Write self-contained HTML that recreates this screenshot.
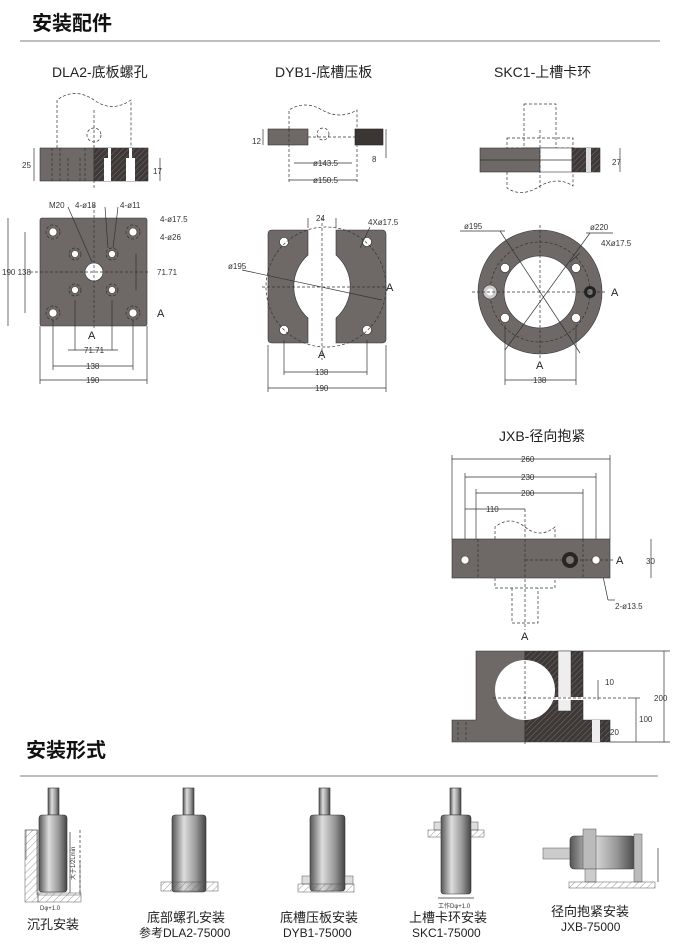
<!DOCTYPE html>
<html><head><meta charset="utf-8"><style>
html,body{margin:0;padding:0;background:#fff;width:684px;height:946px;overflow:hidden}
svg{display:block}
text{font-family:"Liberation Sans","Noto Sans CJK SC",sans-serif;fill:#222}
.t{font-size:11px}
.s{font-size:8px;fill:#333}
.d{stroke:#333;stroke-width:.7;fill:none}
.ds{stroke:#333;stroke-width:.7;fill:none;stroke-dasharray:3 2}
.g{fill:#6e6866;stroke:#333;stroke-width:.6}
.dk{fill:#3b3533;stroke:#222;stroke-width:.6}
.h{fill:#fff;stroke:#333;stroke-width:.6}
.cyl{fill:url(#cg);stroke:#333;stroke-width:.6}
</style></head><body>
<svg width="684" height="946" viewBox="0 0 684 946" xmlns="http://www.w3.org/2000/svg">
<defs>
<linearGradient id="cg" x1="0" x2="1"><stop offset="0" stop-color="#555"/><stop offset=".35" stop-color="#ddd"/><stop offset=".7" stop-color="#999"/><stop offset="1" stop-color="#444"/></linearGradient>
<pattern id="hat" width="4" height="4" patternUnits="userSpaceOnUse" patternTransform="rotate(45)"><rect width="4" height="4" fill="#3e3836"/><line x1="0" y1="0" x2="0" y2="4" stroke="#888" stroke-width=".7"/></pattern>
<pattern id="hl" width="5" height="5" patternUnits="userSpaceOnUse" patternTransform="rotate(45)"><line x1="0" y1="0" x2="0" y2="5" stroke="#555" stroke-width=".6"/></pattern>
</defs>
<!-- titles -->
<text x="32" y="30" style="font-size:20px;font-weight:bold;fill:#111">安装配件</text>
<line x1="20" y1="41" x2="660" y2="41" stroke="#999" stroke-width="1.2"/>
<text x="52" y="77" style="font-size:14px">DLA2-底板螺孔</text>
<text x="275" y="77" style="font-size:14px">DYB1-底槽压板</text>
<text x="494" y="77" style="font-size:14px">SKC1-上槽卡环</text>

<!-- DLA2 side -->
<path class="ds" d="M57,148 V100 Q75,87 94,100 Q112,113 131,100 V148"/>
<line class="ds" x1="94" y1="110" x2="94" y2="190"/>
<circle class="ds" cx="94" cy="135" r="7"/>
<rect class="g" x="40" y="148" width="54" height="33"/>
<rect x="94" y="148" width="54" height="33" fill="url(#hat)" stroke="#333" stroke-width=".6"/>
<rect x="104" y="158" width="7" height="23" fill="#fff"/><rect x="126" y="158" width="9" height="23" fill="#fff"/>
<rect x="108" y="148" width="3" height="12" fill="#fff"/><rect x="129" y="148" width="3" height="12" fill="#fff"/>
<path class="ds" d="M52,148 V181 M60,148V181 M68,158V181 M80,158V181 M85,148V181"/>
<text class="s" x="22" y="168">25</text><line class="d" x1="34" y1="148" x2="34" y2="181"/>
<text class="s" x="153" y="174">17</text><line class="d" x1="160" y1="158" x2="160" y2="181"/>

<!-- DLA2 plate -->
<rect class="g" x="40" y="218" width="107" height="108" rx="2"/>
<g class="h">
<circle cx="53" cy="232" r="4"/><circle cx="133" cy="232" r="4"/><circle cx="53" cy="313" r="4"/><circle cx="133" cy="313" r="4"/>
<circle cx="75" cy="254" r="3.5"/><circle cx="112" cy="254" r="3.5"/><circle cx="75" cy="290" r="3.5"/><circle cx="112" cy="290" r="3.5"/>
<circle cx="94" cy="272" r="9"/></g>
<g class="ds"><circle cx="53" cy="232" r="7"/><circle cx="133" cy="232" r="7"/><circle cx="53" cy="313" r="7"/><circle cx="133" cy="313" r="7"/>
<circle cx="75" cy="254" r="6"/><circle cx="112" cy="254" r="6"/><circle cx="75" cy="290" r="6"/><circle cx="112" cy="290" r="6"/>
<line x1="30" y1="272" x2="150" y2="272"/><line x1="94" y1="205" x2="94" y2="330"/></g>
<g class="d"><line x1="8" y1="218" x2="8" y2="326"/><line x1="25" y1="232" x2="25" y2="313"/>
<line x1="136" y1="254" x2="136" y2="290"/><line x1="75" y1="300" x2="75" y2="350"/><line x1="112" y1="300" x2="112" y2="350"/>
<line x1="53" y1="320" x2="53" y2="370"/><line x1="133" y1="320" x2="133" y2="370"/><line x1="40" y1="326" x2="40" y2="384"/><line x1="147" y1="326" x2="147" y2="384"/>
<line x1="68" y1="350" x2="118" y2="350"/><line x1="53" y1="366" x2="133" y2="366"/><line x1="40" y1="380" x2="147" y2="380"/>
<line x1="68" y1="207" x2="92" y2="262"/><line x1="105" y1="207" x2="108" y2="248"/><line x1="118" y1="207" x2="113" y2="248"/></g>
<text class="s" x="49" y="208">M20</text><text class="s" x="75" y="208">4-ø18</text><text class="s" x="120" y="208">4-ø11</text>
<text class="s" x="160" y="222">4-ø17.5</text><text class="s" x="160" y="240">4-ø26</text>
<text class="s" x="2" y="275">190 138</text><text class="s" x="157" y="275">71.71</text>
<text class="t" x="88" y="339">A</text><text class="t" x="157" y="317">A</text>
<text class="s" x="84" y="353">71.71</text><text class="s" x="86" y="369">138</text><text class="s" x="86" y="383">190</text>

<!-- DYB1 side -->
<path class="ds" d="M289,129 V110 Q305,100 322,110 Q340,120 357,110 V129"/>
<circle class="ds" cx="323" cy="134" r="6"/>
<rect class="g" x="268" y="129" width="40" height="16"/>
<rect class="dk" x="355" y="129" width="28" height="16"/>
<line class="ds" x1="289" y1="129" x2="289" y2="183"/><line class="ds" x1="357" y1="129" x2="357" y2="183"/>
<line class="ds" x1="308" y1="137" x2="355" y2="137"/>
<line class="d" x1="294" y1="163" x2="352" y2="163"/><line class="d" x1="289" y1="180" x2="357" y2="180"/>
<text class="s" x="313" y="166">ø143.5</text><text class="s" x="313" y="183">ø150.5</text>
<text class="s" x="252" y="144">12</text><text class="s" x="372" y="162">8</text>
<line class="d" x1="263" y1="129" x2="263" y2="145"/><line class="d" x1="386" y1="129" x2="386" y2="158"/>

<!-- DYB1 top -->
<path class="g" d="M268,234 Q268,230 272,230 H308 V255 A42 42 0 0 0 308,318 V343 H272 Q268,343 268,339 Z"/>
<path class="g" d="M386,234 Q386,230 382,230 H336 V255 A42 42 0 0 1 336,318 V343 H382 Q386,343 386,339 Z"/>
<g class="h"><circle cx="284" cy="242" r="4.5"/><circle cx="367" cy="242" r="4.5"/><circle cx="284" cy="330" r="4.5"/><circle cx="367" cy="330" r="4.5"/></g>
<circle class="ds" cx="326" cy="287" r="60"/>
<line class="ds" x1="322" y1="218" x2="322" y2="360"/><line class="ds" x1="262" y1="287" x2="385" y2="287"/>
<g class="d"><line x1="242" y1="270" x2="382" y2="300"/><line x1="308" y1="218" x2="308" y2="228"/><line x1="336" y1="218" x2="336" y2="228"/>
<line x1="284" y1="340" x2="284" y2="375"/><line x1="367" y1="340" x2="367" y2="375"/><line x1="268" y1="345" x2="268" y2="392"/><line x1="386" y1="345" x2="386" y2="392"/>
<line x1="284" y1="372" x2="367" y2="372"/><line x1="268" y1="388" x2="386" y2="388"/><line x1="360" y1="248" x2="370" y2="227"/></g>
<text class="s" x="316" y="221">24</text><text class="s" x="368" y="225">4Xø17.5</text><text class="s" x="228" y="269">ø195</text>
<text class="t" x="386" y="291">A</text><text class="t" x="318" y="358">A</text>
<text class="s" x="315" y="375">138</text><text class="s" x="315" y="391">190</text>

<!-- SKC1 side -->
<rect class="ds" x="524" y="104" width="32" height="44"/>
<rect class="ds" x="507" y="138" width="66" height="10"/>
<rect class="g" x="480" y="148" width="60" height="24"/>
<rect x="540" y="148" width="32" height="24" fill="#fff" stroke="#333" stroke-width=".6"/>
<rect x="572" y="148" width="28" height="24" fill="url(#hat)" stroke="#333" stroke-width=".6"/>
<rect x="586" y="148" width="5" height="24" fill="#ddd"/>
<line class="d" x1="480" y1="160" x2="572" y2="160"/>
<line class="ds" x1="540" y1="130" x2="540" y2="190"/>
<path class="ds" d="M507,172 V188 Q522,198 540,186 Q558,176 573,186 V172"/>
<text class="s" x="612" y="165">27</text><line class="d" x1="620" y1="148" x2="620" y2="172"/>

<!-- SKC1 ring -->
<circle class="g" cx="540" cy="292" r="62"/>
<circle cx="540" cy="292" r="36" fill="#fff" stroke="#333" stroke-width=".6"/>
<circle class="ds" cx="540" cy="292" r="50"/>
<g class="h"><circle cx="505" cy="268" r="4.5"/><circle cx="576" cy="268" r="4.5"/><circle cx="505" cy="318" r="4.5"/><circle cx="576" cy="318" r="4.5"/></g>
<circle cx="490" cy="292" r="7" fill="#ccc" stroke="#333" stroke-width=".6"/><circle cx="490" cy="292" r="3.5" fill="#fff"/>
<circle cx="590" cy="292" r="6" fill="#222"/><circle cx="590" cy="292" r="3" fill="#777"/>
<g class="d"><line x1="460" y1="231" x2="505" y2="231"/><line x1="500" y1="231" x2="580" y2="353"/><line x1="586" y1="233" x2="613" y2="233"/><line x1="590" y1="233" x2="505" y2="350"/>
<line x1="580" y1="253" x2="570" y2="262"/><line x1="505" y1="325" x2="505" y2="385"/><line x1="576" y1="325" x2="576" y2="385"/><line x1="505" y1="380" x2="576" y2="380"/></g>
<line class="ds" x1="472" y1="292" x2="605" y2="292"/><line class="ds" x1="540" y1="225" x2="540" y2="360"/>
<text class="s" x="464" y="229">ø195</text><text class="s" x="590" y="230">ø220</text><text class="s" x="601" y="246">4Xø17.5</text>
<text class="t" x="611" y="296">A</text><text class="t" x="536" y="369">A</text><text class="s" x="533" y="383">138</text>

<!-- JXB -->
<text x="499" y="441" style="font-size:14px">JXB-径向抱紧</text>
<g class="d"><line x1="452" y1="459" x2="610" y2="459"/><line x1="465" y1="477" x2="596" y2="477"/><line x1="476" y1="493" x2="583" y2="493"/><line x1="465" y1="509" x2="525" y2="509"/>
<line x1="452" y1="455" x2="452" y2="539"/><line x1="610" y1="455" x2="610" y2="539"/><line x1="465" y1="473" x2="465" y2="560"/><line x1="596" y1="473" x2="596" y2="560"/>
<line x1="476" y1="489" x2="476" y2="539"/><line x1="583" y1="489" x2="583" y2="539"/><line x1="651" y1="539" x2="651" y2="578"/>
<line x1="600" y1="562" x2="608" y2="600"/><line x1="608" y1="600" x2="615" y2="600"/></g>
<text class="s" x="521" y="462">260</text><text class="s" x="521" y="480">230</text><text class="s" x="521" y="496">200</text><text class="s" x="486" y="512">110</text>
<rect class="g" x="452" y="539" width="158" height="39"/>
<path class="ds" d="M495,539 V527 Q510,515 525,527 Q540,539 555,527 V539 M495,578 V588 H555 V578 M512,588 V623 H538 V588"/>
<line class="ds" x1="525" y1="509" x2="525" y2="630"/>
<line class="ds" x1="478" y1="539" x2="478" y2="578"/><line class="ds" x1="583" y1="539" x2="583" y2="578"/>
<line class="ds" x1="525" y1="560" x2="615" y2="560"/>
<circle cx="570" cy="560" r="8" fill="#2a2523"/><circle cx="570" cy="560" r="4" fill="#777"/>
<circle class="h" cx="465" cy="560" r="4"/><circle class="h" cx="596" cy="560" r="4"/>
<text class="t" x="616" y="564">A</text><text class="t" x="521" y="640">A</text>
<text class="s" x="646" y="564">30</text><text class="s" x="615" y="609">2-ø13.5</text>

<path class="g" d="M476,651 H525 V742 H452 V720 H476 Z"/>
<path d="M525,651 H583 V720 H610 V742 H525 Z" fill="url(#hat)" stroke="#333" stroke-width=".6"/>
<circle cx="525" cy="690" r="30" fill="#fff"/>
<rect x="558" y="651" width="13" height="60" fill="#eee" stroke="#333" stroke-width=".5"/>
<rect x="592" y="720" width="8" height="22" fill="#eee"/>
<rect x="550" y="697" width="60" height="3" fill="#fff"/>
<line class="ds" x1="493" y1="698" x2="630" y2="698"/><line class="ds" x1="525" y1="651" x2="525" y2="745"/>
<path class="ds" d="M458,722 V742 M466,722 V742"/>
<g class="d"><line x1="583" y1="651" x2="670" y2="651"/><line x1="664" y1="651" x2="664" y2="742"/><line x1="610" y1="742" x2="670" y2="742"/>
<line x1="630" y1="698" x2="640" y2="698"/><line x1="636" y1="698" x2="636" y2="742"/><line x1="604" y1="720" x2="604" y2="742"/><line x1="598" y1="680" x2="598" y2="700"/></g>
<text class="s" x="605" y="685">10</text><text class="s" x="654" y="701">200</text><text class="s" x="639" y="722">100</text><text class="s" x="610" y="735">20</text>

<!-- 安装形式 -->
<text x="26" y="757" style="font-size:20px;font-weight:bold;fill:#111">安装形式</text>
<line x1="20" y1="776" x2="658" y2="776" stroke="#999" stroke-width="1.2"/>

<!-- item1 -->
<rect class="cyl" x="48" y="788" width="11" height="27"/>
<rect class="cyl" x="39" y="815" width="28" height="77" rx="3"/>
<path d="M26,860 V830 H37 V895 H80 V860" fill="none" stroke="#555" stroke-width=".6"/>
<rect x="25" y="830" width="13" height="72" fill="url(#hl)" stroke="#555" stroke-width=".5"/>
<rect x="38" y="893" width="43" height="9" fill="url(#hl)" stroke="#555" stroke-width=".5"/>
<line class="ds" x1="80" y1="830" x2="80" y2="893"/>
<line class="d" x1="70" y1="832" x2="70" y2="893"/>
<text class="s" x="0" y="0" transform="translate(75,880) rotate(-90)" style="font-size:6px">大于1/2Lmin</text>
<text class="s" x="40" y="910" style="font-size:6px">Dφ+1.0</text>
<text x="27" y="929" style="font-size:13px">沉孔安装</text>

<!-- item2 -->
<rect class="cyl" x="183" y="788" width="11" height="27"/>
<rect class="cyl" x="172" y="815" width="34" height="77" rx="3"/>
<rect x="161" y="882" width="57" height="9" fill="url(#hl)" stroke="#555" stroke-width=".5"/>
<text x="147" y="922" style="font-size:13px">底部螺孔安装</text>
<text x="139" y="937" style="font-size:12px">参考DLA2-75000</text>

<!-- item3 -->
<rect class="cyl" x="319" y="788" width="11" height="27"/>
<rect class="cyl" x="310" y="815" width="35" height="76" rx="3"/>
<rect x="302" y="876" width="8" height="8" fill="#ddd" stroke="#555" stroke-width=".5"/>
<rect x="345" y="876" width="8" height="8" fill="#ddd" stroke="#555" stroke-width=".5"/>
<rect x="298" y="884" width="56" height="8" fill="url(#hl)" stroke="#555" stroke-width=".5"/>
<text x="280" y="922" style="font-size:13px">底槽压板安装</text>
<text x="283" y="937" style="font-size:12px">DYB1-75000</text>

<!-- item4 -->
<rect class="cyl" x="450" y="788" width="11" height="27"/>
<rect class="cyl" x="441" y="815" width="30" height="79" rx="3"/>
<rect x="434" y="822" width="7" height="8" fill="#ddd" stroke="#555" stroke-width=".5"/>
<rect x="471" y="822" width="7" height="8" fill="#ddd" stroke="#555" stroke-width=".5"/>
<rect x="428" y="830" width="13" height="7" fill="url(#hl)" stroke="#555" stroke-width=".5"/>
<rect x="471" y="830" width="13" height="7" fill="url(#hl)" stroke="#555" stroke-width=".5"/>
<line class="d" x1="438" y1="898" x2="474" y2="898"/>
<text class="s" x="438" y="908" style="font-size:6px">工作Dφ+1.0</text>
<text x="409" y="922" style="font-size:13px">上槽卡环安装</text>
<text x="412" y="937" style="font-size:12px">SKC1-75000</text>

<!-- item5 -->
<rect x="543" y="848" width="28" height="11" fill="#ccc" stroke="#555" stroke-width=".5"/>
<rect class="cyl" x="570" y="836" width="66" height="33" rx="4"/>
<rect x="583" y="829" width="13" height="40" fill="#bbb" stroke="#555" stroke-width=".5"/>
<rect x="585" y="869" width="11" height="13" fill="#ccc" stroke="#555" stroke-width=".5"/>
<rect x="634" y="834" width="8" height="48" fill="#bbb" stroke="#555" stroke-width=".5"/>
<rect x="569" y="882" width="86" height="6" fill="url(#hl)" stroke="#555" stroke-width=".5"/>
<line class="d" x1="658" y1="848" x2="658" y2="882"/>
<text x="551" y="916" style="font-size:13px">径向抱紧安装</text>
<text x="561" y="931" style="font-size:12px">JXB-75000</text>
</svg>
</body></html>
